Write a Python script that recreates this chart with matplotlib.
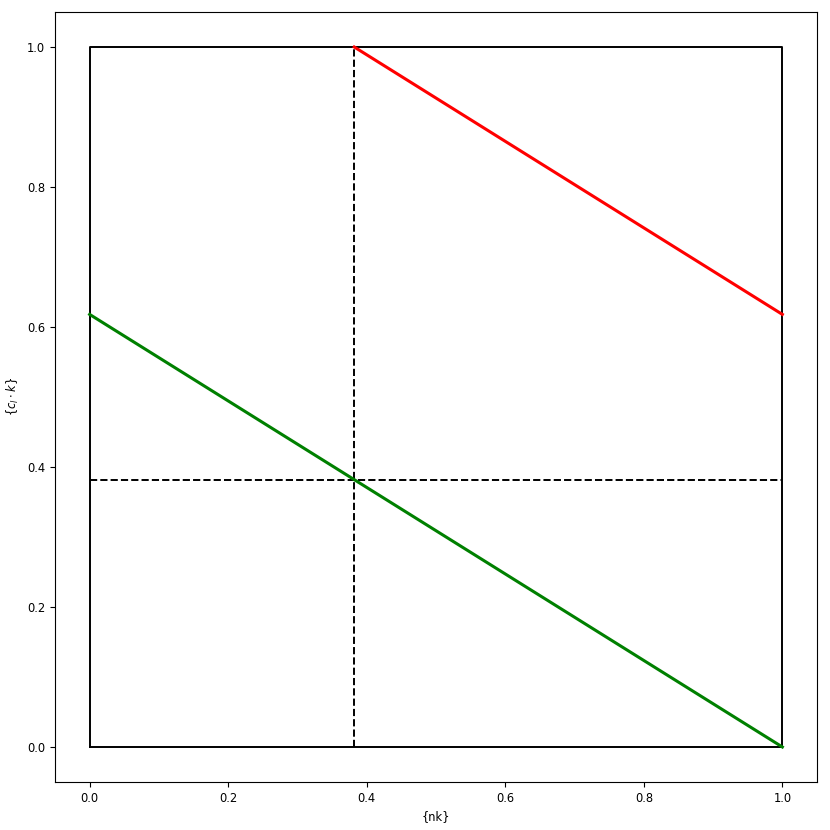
import matplotlib
matplotlib.use("Agg")
import matplotlib.pyplot as plt

# data
box_x = [0, 1, 1, 0, 0]
box_y = [0, 0, 1, 1, 0]
red_x = [0.382, 1.0]
red_y = [1.0, 0.618]
green_x = [0.0, 1.0]
green_y = [0.618, 0.0]
vdash_x = [0.382, 0.382]
vdash_y = [0.0, 1.0]
hdash_x = [0.0, 1.0]
hdash_y = [0.382, 0.382]

fig = plt.figure(figsize=(8.3, 8.3), dpi=100)
ax = fig.add_axes([55 / 830, 48 / 830, 762 / 830, 770 / 830])

ax.plot(box_x, box_y, color="black", linewidth=1.4)
ax.plot(vdash_x, vdash_y, color="black", linestyle="--", linewidth=1.4)
ax.plot(hdash_x, hdash_y, color="black", linestyle="--", linewidth=1.4)
ax.plot(red_x, red_y, color="red", linewidth=2.2)
ax.plot(green_x, green_y, color="green", linewidth=2.2)

ax.set_xlabel("{nk}", fontsize=8.3)
ax.set_ylabel(r"{$c_l \cdot k$}", fontsize=8.3)
ax.tick_params(labelsize=8.3)

fig.savefig("out.png", dpi=100)
